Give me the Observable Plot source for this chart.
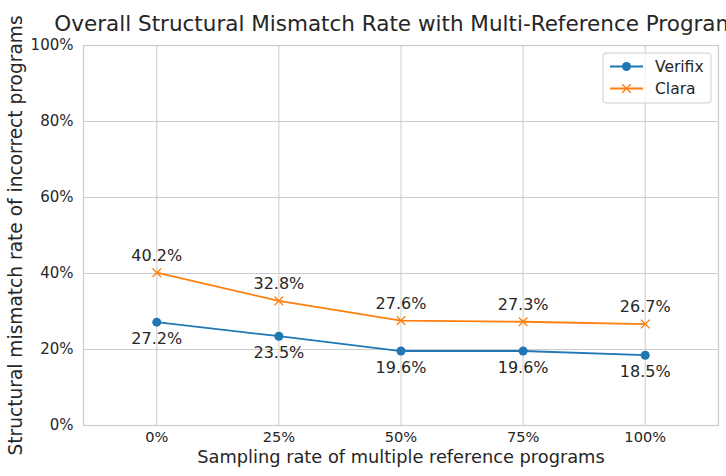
<!DOCTYPE html>
<html>
<head>
<meta charset="utf-8">
<script src="https://cdn.jsdelivr.net/npm/d3@7"></script>
<script src="https://cdn.jsdelivr.net/npm/@observablehq/plot@0.6"></script>
<style>
  html, body { margin: 0; padding: 0; background: #fff; }
  svg { display: block; }
</style>
</head>
<body>
<div id="chart"></div>
<script>
const samplingRates = [0, 25, 50, 75, 100];
const verifix = [27.2, 23.5, 19.6, 19.6, 18.5];
const clara = [40.2, 32.8, 27.6, 27.3, 26.7];
const yTicks = [0, 20, 40, 60, 80, 100];
const seriesNames = ["Verifix", "Clara"];
const colors = ["#1f77b4", "#ff7f0e"];
const title = "Overall Structural Mismatch Rate with Multi-Reference Programs";
const xLabel = "Sampling rate of multiple reference programs";
const yLabel = "Structural mismatch rate of incorrect programs";

const vData = samplingRates.map((x, i) => ({x, y: verifix[i]}));
const cData = samplingRates.map((x, i) => ({x, y: clara[i]}));

const font = "DejaVu Sans, sans-serif";
const textColor = "#262626";
const gridColor = "#cccccc";

const plot = Plot.plot({
  width: 726,
  height: 476,
  marginLeft: 83,
  marginRight: 8,
  marginTop: 45,
  marginBottom: 51,
  style: {fontFamily: font, color: textColor, background: "#fff", overflow: "hidden"},
  x: {type: "linear", domain: [-15, 115]},
  y: {domain: [0, 100]},
  marks: [
    Plot.gridX(samplingRates, {stroke: gridColor, strokeOpacity: 1, strokeWidth: 1}),
    Plot.gridY(yTicks, {stroke: gridColor, strokeOpacity: 1, strokeWidth: 1}),
    Plot.frame({stroke: gridColor, strokeWidth: 1.2}),
    Plot.axisX(samplingRates, {tickSize: 0, tickPadding: 6, fontSize: 14.6, tickFormat: d => d + "%", label: null, fill: textColor}),
    Plot.axisY(yTicks, {tickSize: 0, tickPadding: 10, fontSize: 15, tickFormat: d => d + "%", label: null, fill: textColor}),
    Plot.line(vData, {x: "x", y: "y", stroke: colors[0], strokeWidth: 1.8}),
    Plot.dot(vData, {x: "x", y: "y", fill: colors[0], r: 4.5, stroke: "none"}),
    Plot.line(cData, {x: "x", y: "y", stroke: colors[1], strokeWidth: 1.8}),
    Plot.dot(cData, {x: "x", y: "y", symbol: "times", stroke: colors[1], r: 4, strokeWidth: 1.3}),
    Plot.text(cData, {x: "x", y: "y", text: d => d.y.toFixed(1) + "%", dy: -17, fontSize: 16, fill: textColor}),
    Plot.text(vData, {x: "x", y: "y", text: d => d.y.toFixed(1) + "%", dy: 17, fontSize: 16, fill: textColor}),
    Plot.text([title], {frameAnchor: "top", dy: -30, fontSize: 21.5, fill: textColor}),
    Plot.text([xLabel], {frameAnchor: "bottom", dy: 37, fontSize: 17.8, fill: textColor}),
    Plot.text([yLabel], {frameAnchor: "left", textAnchor: "middle", dx: -67, rotate: -90, fontSize: 18.6, fill: textColor})
  ]
});

// Legend (decoration), placed relative to the plot frame
const svg = d3.select(plot);
const lg = svg.append("g").attr("transform", "translate(603,53)")
  .attr("font-family", font).attr("text-anchor", "start");
lg.append("rect").attr("width", 108).attr("height", 50).attr("rx", 3)
  .attr("fill", "#fff").attr("fill-opacity", 0.8).attr("stroke", gridColor);
seriesNames.forEach((name, i) => {
  const yy = 13.5 + i * 22;
  lg.append("line").attr("x1", 7).attr("x2", 40).attr("y1", yy).attr("y2", yy)
    .attr("stroke", colors[i]).attr("stroke-width", 1.8);
  if (i === 0) {
    lg.append("circle").attr("cx", 23.5).attr("cy", yy).attr("r", 4.5).attr("fill", colors[i]);
  } else {
    lg.append("path").attr("d", d3.symbol(d3.symbolTimes, Math.PI * 16)())
      .attr("transform", `translate(23.5,${yy})`).attr("stroke", colors[i]).attr("stroke-width", 1.3).attr("fill", "none");
  }
  lg.append("text").attr("x", 52).attr("y", yy).attr("dy", "0.35em")
    .attr("text-anchor", "start").attr("font-size", 15.5).attr("fill", textColor).text(name);
});

document.getElementById("chart").appendChild(plot);
</script>
</body>
</html>
